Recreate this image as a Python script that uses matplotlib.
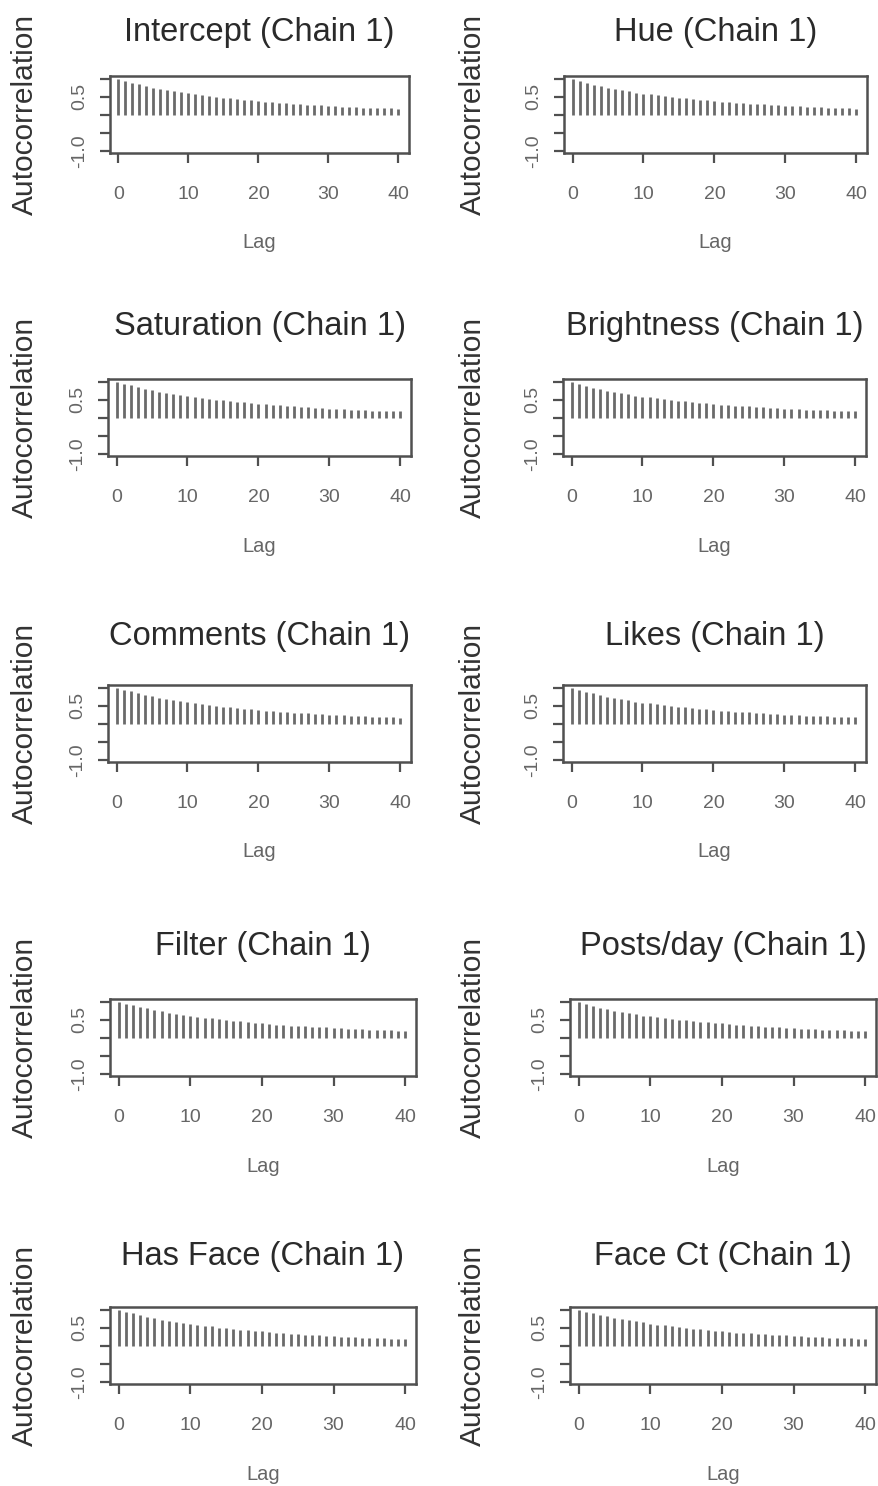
import numpy as np
import matplotlib
matplotlib.use("Agg")
import matplotlib.pyplot as plt

plt.rcParams['font.family'] = ['Liberation Sans', 'DejaVu Sans']

# ---- data ----
titles = ["Intercept (Chain 1)", "Hue (Chain 1)",
          "Saturation (Chain 1)", "Brightness (Chain 1)",
          "Comments (Chain 1)", "Likes (Chain 1)",
          "Filter (Chain 1)", "Posts/day (Chain 1)",
          "Has Face (Chain 1)", "Face Ct (Chain 1)"]

lags = list(range(41))

acf_intercept = [1.00, 0.94, 0.89, 0.85, 0.80, 0.76, 0.72, 0.69, 0.65, 0.63, 0.60,
                 0.58, 0.55, 0.53, 0.50, 0.48, 0.46, 0.44, 0.42, 0.41, 0.39,
                 0.37, 0.35, 0.34, 0.33, 0.31, 0.30, 0.28, 0.27, 0.27, 0.26,
                 0.25, 0.23, 0.22, 0.21, 0.20, 0.19, 0.19, 0.18, 0.18, 0.17]
acf_hue = [1.00, 0.93, 0.89, 0.84, 0.80, 0.75, 0.71, 0.68, 0.65, 0.62, 0.59,
           0.57, 0.54, 0.52, 0.50, 0.48, 0.46, 0.44, 0.42, 0.40, 0.38,
           0.37, 0.35, 0.34, 0.32, 0.31, 0.30, 0.29, 0.28, 0.27, 0.26,
           0.25, 0.24, 0.23, 0.22, 0.21, 0.20, 0.19, 0.19, 0.18, 0.17]
acf_saturation = [1.00, 0.94, 0.90, 0.86, 0.81, 0.77, 0.73, 0.70, 0.66, 0.63, 0.61,
                  0.58, 0.56, 0.53, 0.51, 0.49, 0.47, 0.45, 0.43, 0.41, 0.39,
                  0.38, 0.36, 0.35, 0.33, 0.32, 0.30, 0.29, 0.28, 0.27, 0.26,
                  0.25, 0.24, 0.23, 0.22, 0.21, 0.20, 0.19, 0.19, 0.18, 0.18]
acf_brightness = [1.00, 0.93, 0.88, 0.84, 0.79, 0.75, 0.71, 0.68, 0.65, 0.62, 0.59,
                  0.57, 0.54, 0.52, 0.50, 0.48, 0.46, 0.44, 0.42, 0.40, 0.39,
                  0.37, 0.36, 0.34, 0.33, 0.32, 0.30, 0.29, 0.28, 0.27, 0.26,
                  0.25, 0.24, 0.23, 0.22, 0.21, 0.21, 0.20, 0.19, 0.19, 0.18]
acf_comments = [1.00, 0.94, 0.90, 0.85, 0.81, 0.77, 0.73, 0.69, 0.66, 0.63, 0.60,
                0.57, 0.55, 0.52, 0.50, 0.48, 0.46, 0.44, 0.42, 0.40, 0.38,
                0.37, 0.35, 0.34, 0.32, 0.31, 0.30, 0.29, 0.28, 0.27, 0.26,
                0.25, 0.24, 0.23, 0.22, 0.21, 0.20, 0.19, 0.19, 0.18, 0.17]
acf_likes = [1.00, 0.94, 0.89, 0.85, 0.80, 0.76, 0.72, 0.68, 0.65, 0.62, 0.59,
             0.57, 0.54, 0.52, 0.50, 0.48, 0.46, 0.44, 0.42, 0.40, 0.39,
             0.37, 0.36, 0.34, 0.33, 0.32, 0.31, 0.30, 0.28, 0.27, 0.26,
             0.25, 0.24, 0.23, 0.23, 0.22, 0.21, 0.20, 0.20, 0.19, 0.18]
acf_filter = [1.00, 0.94, 0.90, 0.86, 0.82, 0.78, 0.74, 0.70, 0.67, 0.64, 0.61,
              0.59, 0.56, 0.54, 0.52, 0.50, 0.48, 0.46, 0.44, 0.42, 0.40,
              0.39, 0.37, 0.36, 0.34, 0.33, 0.32, 0.31, 0.30, 0.29, 0.28,
              0.27, 0.26, 0.25, 0.24, 0.23, 0.22, 0.22, 0.21, 0.20, 0.20]
acf_posts = [1.00, 0.93, 0.89, 0.84, 0.80, 0.76, 0.72, 0.69, 0.65, 0.62, 0.60,
             0.57, 0.55, 0.53, 0.51, 0.49, 0.47, 0.45, 0.43, 0.41, 0.40,
             0.38, 0.37, 0.35, 0.34, 0.33, 0.31, 0.30, 0.29, 0.28, 0.27,
             0.26, 0.25, 0.24, 0.23, 0.22, 0.22, 0.21, 0.20, 0.20, 0.19]
acf_has_face = [1.00, 0.94, 0.90, 0.86, 0.81, 0.77, 0.73, 0.70, 0.67, 0.64, 0.61,
                0.58, 0.56, 0.54, 0.51, 0.49, 0.47, 0.45, 0.43, 0.42, 0.40,
                0.38, 0.37, 0.35, 0.34, 0.33, 0.31, 0.30, 0.29, 0.28, 0.27,
                0.26, 0.25, 0.24, 0.23, 0.22, 0.22, 0.21, 0.20, 0.20, 0.19]
acf_face_ct = [1.00, 0.95, 0.91, 0.87, 0.82, 0.77, 0.74, 0.71, 0.68, 0.65, 0.62,
               0.59, 0.57, 0.54, 0.52, 0.50, 0.48, 0.46, 0.44, 0.42, 0.41,
               0.39, 0.37, 0.36, 0.35, 0.33, 0.32, 0.31, 0.30, 0.29, 0.28,
               0.27, 0.26, 0.25, 0.24, 0.23, 0.22, 0.21, 0.21, 0.20, 0.19]

series = [acf_intercept, acf_hue, acf_saturation, acf_brightness, acf_comments,
          acf_likes, acf_filter, acf_posts, acf_has_face, acf_face_ct]

yticks = [-1.0, -0.5, 0.0, 0.5, 1.0]
ytick_labels = ["-1.0", "", "", "0.5", ""]
xticks = [0, 10, 20, 30, 40]

# ---- layout in pixels (frame left, right, top, bottom) ----
W, H = 879, 1486
frames = [
    (110, 409, 76, 153), (564, 867, 76, 153),
    (108, 411, 379, 456), (563, 866, 379, 456),
    (108, 411, 685, 762), (563, 866, 685, 762),
    (110, 416, 999, 1076), (570, 876, 999, 1076),
    (110, 416, 1307, 1384), (570, 876, 1307, 1384),
]
title_y = [32, 327, 637, 947, 1257]
ylab_x = [25, 473]

frame_col = "#505050"
bar_col = "#6a6a6a"

fig = plt.figure(figsize=(W / 100, H / 100), dpi=100)

for i, (name, vals) in enumerate(zip(titles, series)):
    x0, x1, y0, y1 = frames[i]
    ax = fig.add_axes([x0 / W, 1 - y1 / H, (x1 - x0) / W, (y1 - y0) / H])
    ax.vlines(lags, 0, vals, color=bar_col, lw=2.0)
    ax.set_xlim(-1.2, 41.5)
    ax.set_ylim(-1.06, 1.08)
    ax.set_xticks(xticks)
    ax.set_yticks(yticks)
    ax.set_yticklabels(ytick_labels)
    ax.tick_params(axis="both", direction="out", length=7, width=1.6,
                   color=frame_col, labelcolor="#666666", labelsize=14)
    ax.tick_params(axis="x", pad=16.5)
    ax.tick_params(axis="y", pad=9)
    for lab in ax.get_yticklabels():
        lab.set_rotation(90)
        lab.set_va("center")
    for sp in ax.spines.values():
        sp.set_color(frame_col)
        sp.set_linewidth(1.8)

    cx = (x0 + x1) / 2
    row = i // 2
    fig.text(cx / W, 1 - title_y[row] / H, name, ha="center", va="center",
             fontsize=23.5, color="#2a2a2a")
    fig.text(cx / W, 1 - (y1 + 90) / H, "Lag", ha="center", va="center",
             fontsize=14.5, color="#666666")
    fig.text(ylab_x[i % 2] / W, 1 - ((y0 + y1) / 2) / H, "Autocorrelation",
             ha="center", va="center", rotation=90, fontsize=21.5, color="#333333")

fig.savefig("out.png", dpi=100)
